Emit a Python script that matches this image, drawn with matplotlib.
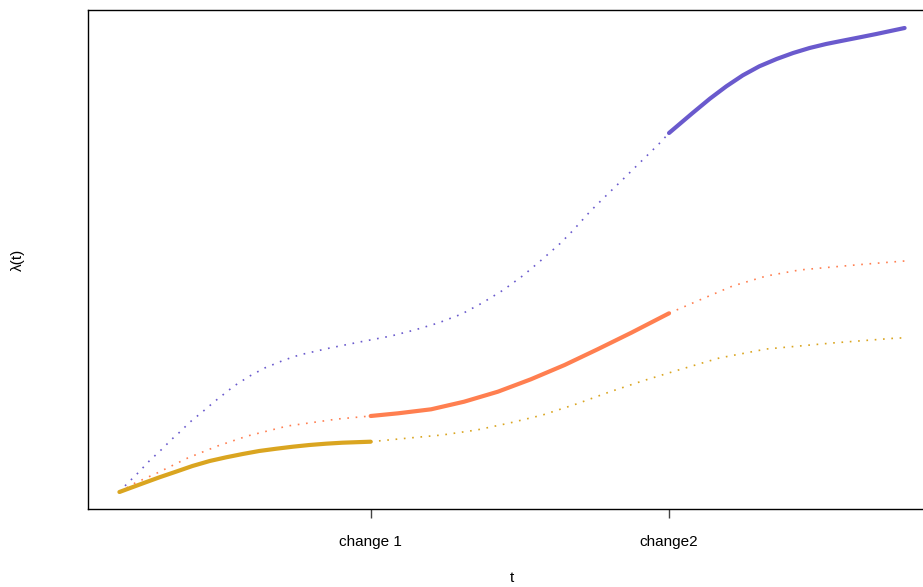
import numpy as np
import matplotlib
matplotlib.use("Agg")
import matplotlib.pyplot as plt

plt.rcParams['font.family'] = ['Liberation Sans', 'DejaVu Sans']

# change points on the time axis
change1 = 3.2
change2 = 7.0
tick_pos = [change1, change2]
tick_labels = ['change 1', 'change2']

# goldenrod curve: solid before change 1, dotted after
gold_t_solid = [0.0, 0.30, 0.51, 0.72, 0.93, 1.15, 1.36, 1.57, 1.78, 2.00,
                2.21, 2.42, 2.63, 2.84, 3.2]
gold_y_solid = [0.17, 0.257, 0.317, 0.373, 0.43, 0.48, 0.517, 0.55, 0.58,
                0.603, 0.623, 0.64, 0.653, 0.663, 0.673]
gold_t_dot = [3.2, 3.69, 4.11, 4.55, 4.97, 5.39, 5.82, 6.24, 6.66, 7.12,
              7.64, 8.24, 9.08, 9.91, 10.0]
gold_y_dot = [0.673, 0.71, 0.74, 0.79, 0.86, 0.94, 1.05, 1.17, 1.28, 1.39,
              1.51, 1.60, 1.66, 1.71, 1.71]

# coral curve: solid between the two change points
coral_t_pre = [0.0, 0.20, 0.48, 0.87, 1.25, 1.63, 2.14, 2.78, 3.2]
coral_y_pre = [0.17, 0.26, 0.36, 0.51, 0.63, 0.73, 0.83, 0.90, 0.93]
coral_t_solid = [3.2, 3.55, 3.97, 4.39, 4.82, 5.24, 5.67, 6.09, 6.52, 7.0]
coral_y_solid = [0.93, 0.957, 0.997, 1.073, 1.173, 1.297, 1.44, 1.597,
                 1.763, 1.957]
coral_t_post = [7.0, 7.39, 7.81, 8.24, 8.66, 9.08, 9.52, 10.0]
coral_y_post = [1.957, 2.09, 2.23, 2.33, 2.39, 2.42, 2.45, 2.48]

# slateblue curve: solid after change 2
slate_t_dot = [0.0, 0.09, 0.24, 0.38, 0.53, 0.68, 0.76, 0.90, 1.07, 1.22,
               1.46, 1.66, 1.85, 2.10, 2.29, 2.68, 3.06, 3.46, 3.76, 4.06,
               4.36, 4.62, 4.89, 5.15, 5.39, 5.62, 5.77, 6.0, 6.22, 6.43,
               6.65, 6.87, 7.0]
slate_y_dot = [0.17, 0.247, 0.363, 0.48, 0.59, 0.707, 0.763, 0.87, 0.98,
               1.08, 1.23, 1.33, 1.41, 1.49, 1.54, 1.61, 1.67, 1.73, 1.79,
               1.86, 1.95, 2.06, 2.19, 2.34, 2.50, 2.66, 2.78, 2.98, 3.15,
               3.31, 3.48, 3.65, 3.76]
slate_t_solid = [7.0, 7.30, 7.52, 7.73, 7.94, 8.15, 8.37, 8.58, 8.79, 9.00,
                 9.21, 9.43, 9.64, 10.0]
slate_y_solid = [3.76, 3.96, 4.103, 4.227, 4.337, 4.427, 4.50, 4.56, 4.61,
                 4.65, 4.683, 4.717, 4.75, 4.81]

fig = plt.figure(figsize=(9.23, 5.87), dpi=100)
ax = fig.add_axes([88 / 923, 1 - 509 / 587, 848 / 923, 499 / 587])

solid_kw = dict(lw=3.0, solid_capstyle='round', solid_joinstyle='round')
dot_kw = dict(lw=1.2, dashes=(1.0, 4.0), dash_capstyle='butt')

ax.plot(slate_t_dot, slate_y_dot, color='slateblue', **dot_kw)
ax.plot(coral_t_pre, coral_y_pre, color='coral', **dot_kw)
ax.plot(coral_t_post, coral_y_post, color='coral', **dot_kw)
ax.plot(gold_t_dot, gold_y_dot, color='goldenrod', **dot_kw)

ax.plot(gold_t_solid, gold_y_solid, color='goldenrod', **solid_kw)
ax.plot(coral_t_solid, coral_y_solid, color='coral', **solid_kw)
ax.plot(slate_t_solid, slate_y_solid, color='slateblue', **solid_kw)

ax.set_xlim(-0.4, 10.4)
ax.set_ylim(0.0, 4.99)

ax.set_xticks(tick_pos)
ax.set_xticklabels(tick_labels, fontsize=11)
ax.set_yticks([])
ax.tick_params(axis='x', direction='out', length=6.5, width=1.0,
               color='#444444', pad=12)
for sp in ax.spines.values():
    sp.set_linewidth(1.0)
    sp.set_color('black')

ax.set_xlabel('t', fontsize=11, va='center')
ax.xaxis.set_label_coords(0.5, (509 - 578) / 499)
ax.set_ylabel('λ(t)', fontsize=11, va='center')
ax.yaxis.set_label_coords((18 - 88) / 848, 0.5)

fig.savefig('out.png', dpi=100)
